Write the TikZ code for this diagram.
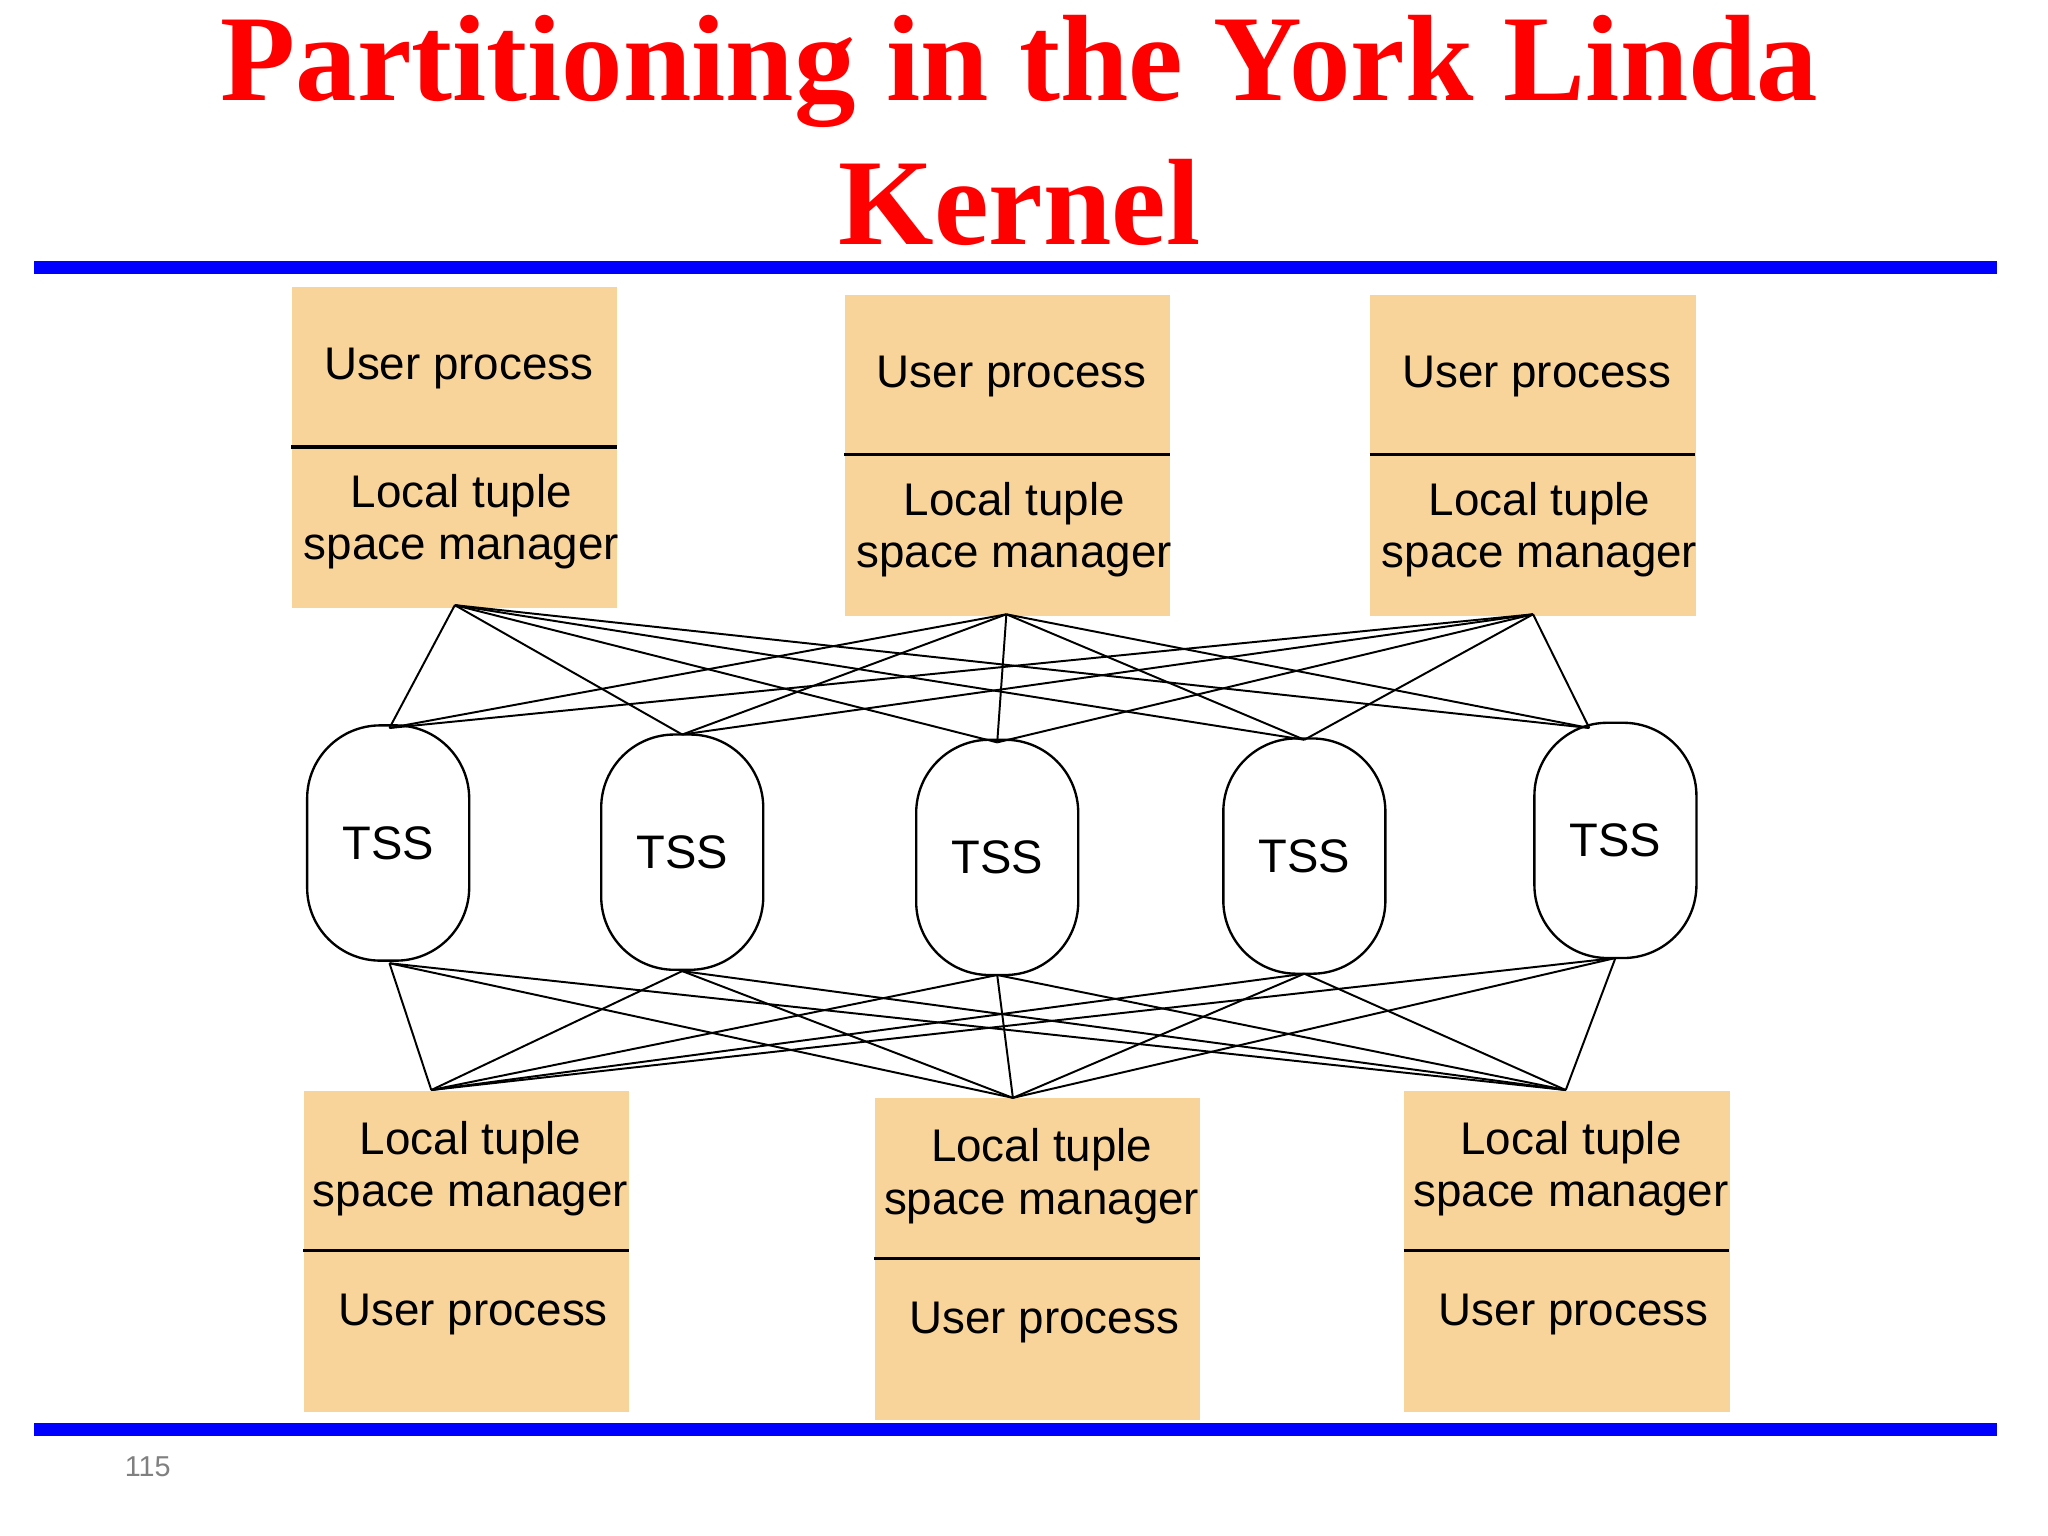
\documentclass[tikz,border=0pt]{standalone}
\usepackage{fontspec}
\setmainfont{Liberation Serif}
\newfontfamily\sans{Liberation Sans}
\begin{document}
\begin{tikzpicture}[x=0.5pt,y=-0.5pt,
  box/.style={fill=boxc,draw=none,minimum width=124.5pt,minimum height=123pt,anchor=north west,inner sep=0},
  tss/.style={draw,line width=0.9pt,rounded corners=28pt,minimum width=62pt,minimum height=90pt,font=\sans\fontsize{18}{20}\selectfont},
  lbl/.style={font=\sans\fontsize{17.5}{20}\selectfont,align=center},
  wire/.style={line width=0.75pt}]
\definecolor{boxc}{RGB}{248,212,154}
\useasboundingbox (0,0) rectangle (1567,1175);
\fill[white] (0,0) rectangle (1567,1175);
\node[text=red,font=\bfseries\fontsize{47}{55}\selectfont,align=center] (title) at (780,100) {Partitioning in the York Linda\\Kernel};
\fill[blue] (26,200) rectangle (1528,210);
\fill[blue] (26,1089) rectangle (1528,1099);
\node[text=gray,font=\sans\fontsize{11}{13}\selectfont] (pg) at (113,1122) {115};
\foreach \n/\x/\y in {a/223/219,b/646/225,c/1048/225}{
  \node[box] (t\n) at (\x,\y) {};
  \draw[line width=1.2pt] (\x,\y+123) -- (\x+249,\y+123);
  \node[lbl] at (\x+128,\y+63) {User process};
  \node[lbl] at (\x+130,\y+180) {Local tuple\\space manager};
}
\foreach \n/\x/\y in {a/232/834,b/669/840,c/1074/834}{
  \node[box] (b\n) at (\x,\y) {};
  \draw[line width=1.2pt] (\x,\y+123) -- (\x+249,\y+123);
  \node[lbl] at (\x+128,\y+60) {Local tuple\\space manager};
  \node[lbl] at (\x+130,\y+172) {User process};
}
\foreach \i/\x/\y in {1/297/645,2/522/652,3/763/656,4/998/655,5/1236/643}{
  \node[tss] (s\i) at (\x,\y) {TSS};
}
\coordinate (ta) at (348,463); \coordinate (tb) at (770,470); \coordinate (tc) at (1173,470);
\coordinate (ba) at (330,834); \coordinate (bb) at (775,840); \coordinate (bc) at (1198,834);
\coordinate (u1) at (298,557); \coordinate (u2) at (522,562); \coordinate (u3) at (763,568); \coordinate (u4) at (998,566); \coordinate (u5) at (1216,557);
\coordinate (d1) at (298,737); \coordinate (d2) at (522,743); \coordinate (d3) at (763,746); \coordinate (d4) at (998,745); \coordinate (d5) at (1236,733);
\foreach \p in {ta,tb,tc}{\foreach \i in {1,...,5}{\draw[wire] (\p) -- (u\i);}}
\foreach \p in {ba,bb,bc}{\foreach \i in {1,...,5}{\draw[wire] (\p) -- (d\i);}}
\end{tikzpicture}
\end{document}
